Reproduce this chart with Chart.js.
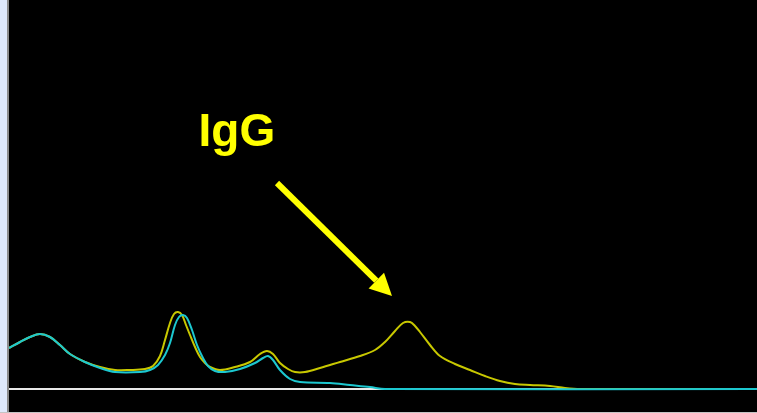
<!DOCTYPE html>
<html>
<head>
<meta charset="utf-8">
<script src="https://cdn.jsdelivr.net/npm/chart.js@4.4.1/dist/chart.umd.min.js"></script>
<style>
  html, body { margin: 0; padding: 0; background: #000; overflow: hidden; }
  #wrap { position: relative; width: 757px; height: 413px; background: #000; }
  #side { position: absolute; left: 0; top: 0; width: 7px; height: 413px; background: #dfe9fb; border-right: 2px solid #8c8c8c; }
  #foot { position: absolute; left: 0; top: 412px; width: 757px; height: 1px; background: #c4c4c4; }
  #chart { position: absolute; left: 9px; top: 0; }
</style>
</head>
<body>
<div id="wrap">
  <div id="side"></div>
  <canvas id="chart" width="748" height="412"></canvas>
  <div id="foot"></div>
</div>
<script>
// migration position and signal
const serumX = [0, 1.1, 2.1, 3.1, 4.1, 5.1, 6.1, 7.6, 9.1, 10.6, 12.1, 13.6, 14.4, 15.1, 15.6, 16.1, 16.5, 16.9, 17.3, 17.7, 18.1, 18.6, 19.1, 19.6, 20.1, 21.1, 22.6, 24.1, 25.1, 25.8, 26.4, 27.1, 27.9, 28.6, 29.6, 31.1, 33.1, 35.1, 36.6, 37.6, 38.6, 39.4, 40.1, 40.6, 41.1, 42.1, 43.1, 44.6, 46.1, 47.6, 49.1, 50.6, 52.1, 54.1, 55.6, 57.1, 74.8];
const serumY = [0.41, 0.47, 0.52, 0.55, 0.52, 0.44, 0.35, 0.27, 0.22, 0.19, 0.19, 0.20, 0.23, 0.33, 0.49, 0.66, 0.75, 0.77, 0.74, 0.64, 0.54, 0.42, 0.32, 0.26, 0.22, 0.19, 0.22, 0.27, 0.35, 0.38, 0.35, 0.26, 0.20, 0.17, 0.17, 0.21, 0.27, 0.33, 0.39, 0.47, 0.58, 0.66, 0.67, 0.63, 0.57, 0.44, 0.33, 0.25, 0.19, 0.13, 0.08, 0.05, 0.04, 0.03, 0.01, 0, 0];

const immX = [0, 1.1, 2.1, 3.1, 4.1, 5.1, 6.1, 7.6, 9.1, 10.6, 13.1, 14.1, 14.9, 15.6, 16.1, 16.6, 17.0, 17.4, 17.8, 18.3, 18.8, 19.4, 19.9, 20.6, 21.6, 23.1, 24.6, 25.4, 25.9, 26.4, 27.1, 28.1, 29.1, 32.1, 34.1, 36.1, 37.6, 74.8];
const immY = [0.41, 0.47, 0.52, 0.55, 0.52, 0.44, 0.35, 0.27, 0.21, 0.17, 0.17, 0.19, 0.24, 0.34, 0.46, 0.64, 0.72, 0.74, 0.71, 0.59, 0.44, 0.31, 0.23, 0.18, 0.17, 0.20, 0.26, 0.31, 0.33, 0.29, 0.19, 0.10, 0.07, 0.06, 0.04, 0.02, 0, 0];

const baseX = [0, 74.8];
const baseY = [0, 0];

// label and arrow, in data units
const labelText = 'IgG';
const labelAt = [18.95, 2.43];
const arrowFrom = [26.8, 2.06];
const arrowTo = [38.3, 0.93];

const pts = (xs, ys) => xs.map((x, i) => ({ x: x, y: ys[i] }));

const labelPlugin = {
  id: 'igg',
  afterDatasetsDraw(chart) {
    const { ctx, scales } = chart;
    const px = p => [scales.x.getPixelForValue(p[0]), scales.y.getPixelForValue(p[1])];
    const [tx, ty] = px(labelAt);
    const [ax, ay] = px(arrowFrom);
    const [bx, by] = px(arrowTo);
    ctx.save();
    ctx.fillStyle = '#ffff00';
    ctx.strokeStyle = '#ffff00';
    ctx.font = 'bold 46px "Liberation Sans", Arial, sans-serif';
    ctx.textBaseline = 'alphabetic';
    ctx.fillText(labelText, tx, ty);

    const ang = Math.atan2(by - ay, bx - ax);
    const headLen = 22, headW = 11;
    const hx = bx - headLen * Math.cos(ang), hy = by - headLen * Math.sin(ang);
    ctx.lineWidth = 6;
    ctx.beginPath();
    ctx.moveTo(ax, ay);
    ctx.lineTo(hx, hy);
    ctx.stroke();
    ctx.beginPath();
    ctx.moveTo(bx, by);
    ctx.lineTo(hx + headW * Math.sin(ang), hy - headW * Math.cos(ang));
    ctx.lineTo(hx - headW * Math.sin(ang), hy + headW * Math.cos(ang));
    ctx.closePath();
    ctx.fill();
    ctx.restore();
  }
};

new Chart(document.getElementById('chart'), {
  type: 'line',
  data: {
    datasets: [
      {
        label: 'Immunosubtraction',
        data: pts(immX, immY),
        borderColor: '#1cc8d0',
        borderWidth: 2,
        order: 1
      },
      {
        label: 'Serum',
        data: pts(serumX, serumY),
        borderColor: '#c8c800',
        borderWidth: 2,
        order: 2
      },
      {
        label: 'Baseline',
        data: pts(baseX, baseY),
        borderColor: '#e8e8e8',
        borderWidth: 2,
        tension: 0,
        order: 3
      }
    ]
  },
  options: {
    responsive: false,
    animation: false,
    devicePixelRatio: 1,
    layout: { padding: 0 },
    elements: {
      point: { radius: 0 },
      line: { tension: 0.35 }
    },
    plugins: {
      legend: { display: false },
      tooltip: { enabled: false }
    },
    scales: {
      x: { type: 'linear', min: 0, max: 74.8, display: false },
      y: { min: -0.23, max: 3.89, display: false }
    }
  },
  plugins: [labelPlugin]
});
</script>
</body>
</html>
